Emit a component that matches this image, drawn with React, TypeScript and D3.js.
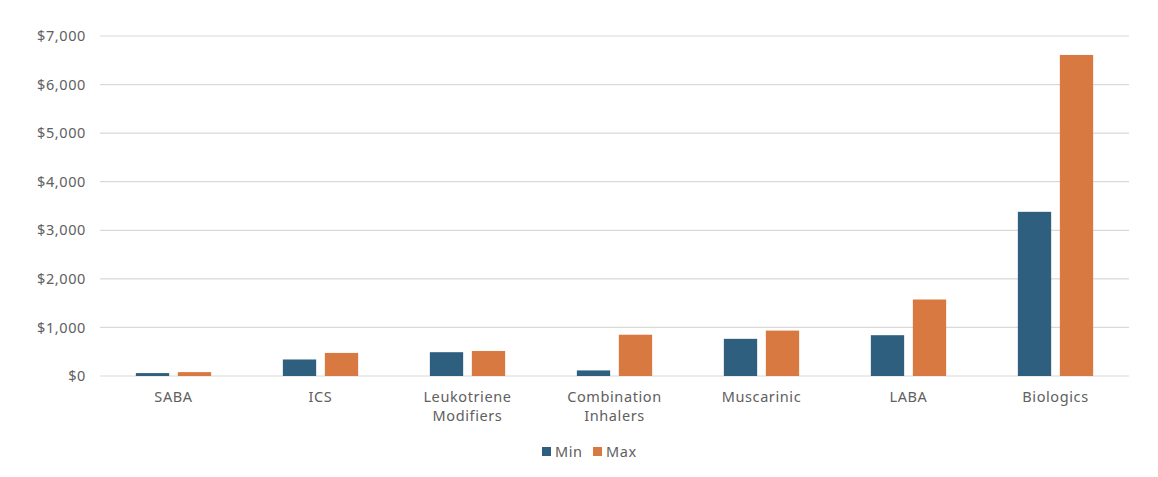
import React from "react";
import * as d3 from "d3";

const categories = ["SABA", "ICS", "Leukotriene Modifiers", "Combination Inhalers", "Muscarinic", "LABA", "Biologics"];
const categoryLines = [["SABA"], ["ICS"], ["Leukotriene", "Modifiers"], ["Combination", "Inhalers"], ["Muscarinic"], ["LABA"], ["Biologics"]];
const seriesNames = ["Min", "Max"];
const minValues = [60, 340, 490, 115, 765, 840, 3380];
const maxValues = [80, 475, 515, 850, 935, 1575, 6610];
const yTicks = [0, 1000, 2000, 3000, 4000, 5000, 6000, 7000];
const colors = ["#2E5F7F", "#D97942"];

export default function App() {
  const W = 1158, H = 477;
  const left = 100, right = 1129, top = 36, bottom = 376;
  const x0 = d3.scaleBand<string>().domain(categories).range([left, right]).padding(0);
  const x1 = d3.scaleBand<string>().domain(seriesNames).range([0, x0.bandwidth()]).paddingInner(0.207).paddingOuter(0.854);
  const y = d3.scaleLinear().domain([0, 7000]).range([bottom, top]);
  const fmt = (v: number) => "$" + d3.format(",")(v);
  const font = "'Noto Sans', Lato, sans-serif";
  const series = [minValues, maxValues];
  const fs = 14.5;
  const tc = "#606060";
  const ls = 0.6;
  return (
    <svg width={W} height={H} style={{ position: "absolute", left: 0, top: 0, background: "#fff" }} fontFamily={font} letterSpacing={ls}>
      {yTicks.map((t) => (
        <g key={t}>
          <line x1={left} x2={right} y1={y(t)} y2={y(t)} stroke="#D9D9D9" strokeWidth={1.2} />
          <text x={86} y={y(t)} dy="0.35em" textAnchor="end" fontSize={fs} fill={tc}>{fmt(t)}</text>
        </g>
      ))}
      {categories.map((c, i) => (
        <g key={c} transform={`translate(${x0(c)},0)`}>
          {seriesNames.map((s, j) => (
            <rect key={s} x={x1(s)} width={x1.bandwidth()} y={y(series[j][i])} height={y(0) - y(series[j][i])} fill={colors[j]} />
          ))}
          {categoryLines[i].map((ln, k) => (
            <text key={k} x={x0.bandwidth() / 2} y={402 + k * 19} textAnchor="middle" fontSize={fs} fill={tc}>{ln}</text>
          ))}
        </g>
      ))}
      <g>
        <rect x={542} y={447} width={9} height={9} fill={colors[0]} />
        <text x={555} y={452} dy="0.35em" fontSize={fs} fill={tc}>Min</text>
        <rect x={593} y={447} width={9} height={9} fill={colors[1]} />
        <text x={606} y={452} dy="0.35em" fontSize={fs} fill={tc}>Max</text>
      </g>
    </svg>
  );
}
